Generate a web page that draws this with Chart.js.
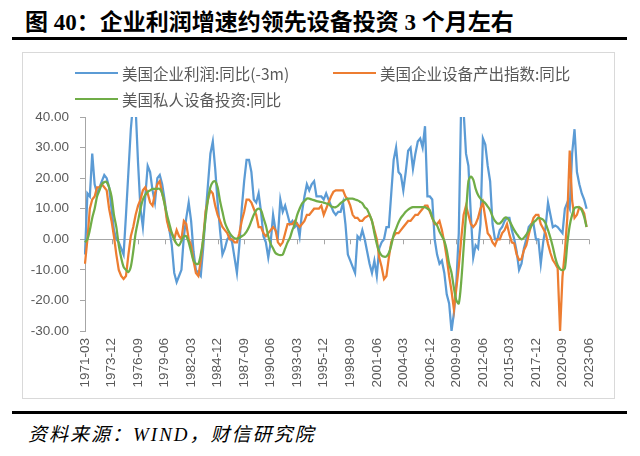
<!DOCTYPE html>
<html>
<head>
<meta charset="utf-8">
<script src="https://cdn.jsdelivr.net/npm/chart.js@4.4.0/dist/chart.umd.min.js"></script>
<style>
  html, body { margin: 0; padding: 0; background: #fff; }
  body { width: 640px; height: 456px; position: relative; overflow: hidden; font-family: "Noto Sans CJK SC", sans-serif; }
  #title { position: absolute; left: 25px; top: 3px; font-size: 23px; font-weight: bold; color: #000; white-space: nowrap; font-family: "Liberation Serif", "Noto Sans CJK SC", serif; }
  .rule { position: absolute; left: 12px; width: 615px; height: 3px; background: #000; }
  #box { position: absolute; left: 22px; top: 52px; width: 591px; height: 345px; border: 1px solid #d9d9d9; }
  #chartWrap { position: absolute; left: 22px; top: 52px; width: 593px; height: 347px; }
  .lg { position: absolute; height: 18px; display: flex; align-items: center; font-size: 15.5px; color: #595959; white-space: nowrap; }
  .lg i { display: inline-block; width: 43px; height: 2.5px; margin-right: 4px; }
  #source { position: absolute; left: 28px; top: 419px; font-size: 19px; letter-spacing: 2px; font-style: italic; color: #000; white-space: nowrap; font-family: "Liberation Serif", "Noto Sans CJK SC", serif; }
</style>
</head>
<body>
<div id="title">图 40：企业利润增速约领先设备投资 3 个月左右</div>
<div class="rule" style="top:37px"></div>
<div id="box"></div>
<div id="chartWrap"><canvas id="chart" width="593" height="347"></canvas></div>
<div class="lg" style="left:75px;top:64px"><i style="background:#5B9BD5"></i>美国企业利润:同比(-3m)</div>
<div class="lg" style="left:333px;top:64px"><i style="background:#ED7D31"></i>美国企业设备产出指数:同比</div>
<div class="lg" style="left:75px;top:90px"><i style="background:#70AD47"></i>美国私人设备投资:同比</div>
<div class="rule" style="top:411px"></div>
<div id="source">资料来源：WIND，财信研究院</div>

<script>
// quarterly categories 1971-03 .. 2023-06
const quarters = [];
for (let y = 1971; y <= 2023; y++) {
  for (const m of ["03", "06", "09", "12"]) {
    const q = y + "-" + m;
    if (q >= "1971-03" && q <= "2023-06") quarters.push(q);
  }
}

const tickLabels = ["1971-03", "1973-12", "1976-09", "1979-06", "1982-03", "1984-12", "1987-09", "1990-06",
  "1993-03", "1995-12", "1998-09", "2001-06", "2004-03", "2006-12", "2009-09", "2012-06", "2015-03",
  "2017-12", "2020-09", "2023-06"];

const profitNames = "美国企业利润:同比(-3m)";
const outputNames = "美国企业设备产出指数:同比";
const investNames = "美国私人设备投资:同比";

const profit = [
  -5, 15, 14, 28, 18, 15, 17, 19, 21, 20, 17, 10, 3, 0, -1, -3, -5, 8, 22, 36,
  45, 43, 25, 10, 4, 14, 24, 22, 16, 12, 20, 21, 18, 13, 7, 3, -2, -11, -14, -12,
  -10, 1, 7, 12, 6, -4, -10, -11, -12, -3, 8, 18, 28, 32, 23, 12, 3, -5, -3, 0,
  1, -1, -6, -11, -2, 10, 19, 26, 26, 22, 13, 12, 15, 9, 1, -1, -6, -1, 8, 3,
  1, 13, 9, 11, 8, 5, 6, 4, 5, 1, 9, 14, 18, 16, 18, 19, 14, 14, 14, 13,
  15, 13, 11, 9, 8, 9, 9, 12, 5, -5, -7, -9, -11, 1, 0, 3, 0, -4, -8, -11,
  -7, -12, -3, -1, 0, 4, 4, 15, 26, 30, 22, 21, 16, 22, 29, 30, 23, 28, 32, 33,
  30, 37, 14, 14, 13, 0, -5, -8, -7, -11, -18, -21, -30, -24, -14, 2, 45, 42, 28, 24,
  8, -6, -2, -3, 5, 33, 31, 24, 19, 5, 0, 0, 3, 4, 6, 7, 7, 3, 0, -4,
  -10, -8, -3, 0, 4, 5, 5, 0, 0, -8, -1, 4, 12, 8, 4, 4.5, 4, 3, 2, 10,
  12, 10, 28, 36, 22, 18, 15, 13, 10
];

const output = [
  -8, 0, 10, 13, 14, 17, 17, 18, 17, 16, 10, 6, 1, -5, -10, -12, -13, -12, -5, 1,
  4, 8, 11, 13, 16, 17, 15, 12, 11, 15, 18, 19, 15, 12, 6, 3, 2, 0, 3, 1,
  0, 6, 5, 0, -2, -7, -11, -12, -7, 0, 9, 13, 16, 15, 11, 8, 6, 4, 3, 2,
  0, 0, -1, -1, 2, 6, 9, 13, 13, 12, 10, 8, 4, 4, 2, 1, 2, 3, 4, 3,
  -1, -2, -1, 2, 5, 5, 5, 6, 5, 4, 5, 6, 8, 8, 9, 10, 10, 10, 11, 8,
  10, 12, 14, 15.5, 16, 16, 16, 16, 14, 13, 11, 8, 7, 7, 6, 6, 7, 7.5, 8, 6,
  3, 0, -6, -9, -13, -12, -6, -1, 1, 2, 2, 3, 4, 5, 6, 6, 7, 8, 8, 9,
  10, 11, 11, 9, 7, 5, 5, 6, 3, -1, -6, -12, -17, -23, -16, -9, 0, 8, 11, 8,
  5, 4, 5, 7, 10, 12, 7, 2, 1, -1, -2, 0, 0, 2, 3, 5, 1.5, -1, -1.4, -5,
  -6.8, -6.5, -3.6, -2, 1.5, 4.5, 7, 8, 8, 5, 3.5, 2, -1.5, -4.5, -6.8, -8, -9.5, -30, -12.3, -4,
  7, 29, 12.7, 7, 8, 10.5, 10, 8.5, 4
];

const invest = [
  -1, 0, 3, 7, 10, 14, 16, 18, 18.7, 18.7, 17, 14, 8, 4, -2, -6, -9, -10, -10.7, -9,
  -4, 2, 6, 10, 13, 14.5, 15.5, 16, 16.5, 16.5, 16.5, 16.5, 15, 11.5, 8, 5, 2, 0, -1.5, -2,
  -0.5, 1, 1, -1, -4, -7, -8, -8, -5, 0, 7, 13, 17, 18.7, 19, 17, 12.5, 9, 5.5, 3.5,
  2, 1, 0.3, 0.2, 0.5, 1, 1.5, 2.5, 4, 6, 8, 9.5, 10, 9.5, 7, 4.5, 1, -1.5, -3, -4.5,
  -5, -5.2, -5, -3, -1, 0.5, 3, 5, 8, 10, 11.7, 12.5, 13.3, 13.3, 13, 12.8, 12.5, 12.3, 12.2, 12,
  11.7, 11.5, 10.8, 10.5, 10.5, 11, 11.8, 12.4, 13, 13.3, 13.3, 13.3, 13, 12.8, 12.3, 11.8, 10.5, 9.8, 8, 6,
  2, -1.5, -4, -5.3, -5.7, -5.6, -4.5, -2, 1.5, 3.5, 5.5, 7, 8, 9, 9.7, 10.2, 10.5, 10.5, 10.5, 10.5,
  10.5, 10.5, 10, 9.5, 7, 5.5, 4.5, 2.5, 1, -0.5, -3.5, -8, -11, -16, -20, -21, -14, -3, 8, 19,
  20.5, 19.5, 16.5, 14.5, 13.3, 12.5, 11.8, 10.7, 9.5, 7.5, 6, 5.2, 5.2, 6, 7, 7, 6, 4.5, 3, 1.8,
  0.7, 0, 0.5, 1.5, 2.8, 4.2, 5.5, 6.2, 7, 6.8, 6.4, 5.2, 3, 0.5, -2.5, -6, -8.5, -9.7, -10.1, -9.5,
  -1.5, 4.5, 8, 10.2, 10.5, 10.4, 9.5, 7.3, 4
];

const axisGrey = "#a6a6a6";
const labelGrey = "#595959";

// small tick marks sitting on the zero line, like the excel category axis
const zeroTicks = {
  id: "zeroTicks",
  beforeDatasetsDraw(chart) {
    const x = chart.scales.x, y = chart.scales.y;
    const y0 = y.getPixelForValue(0);
    const c = chart.ctx;
    c.save();
    c.strokeStyle = axisGrey;
    c.lineWidth = 1;
    x.ticks.forEach(t => {
      const px = Math.round(x.getPixelForValue(t.value)) + 0.5;
      c.beginPath();
      c.moveTo(px, y0);
      c.lineTo(px, y0 + 5);
      c.stroke();
    });
    c.restore();
  }
};

new Chart(document.getElementById("chart"), {
  type: "line",
  data: {
    labels: quarters,
    datasets: [
      {label: profitNames, data: profit, borderColor: "#5B9BD5", borderWidth: 2.25, pointRadius: 0, tension: 0, order: 3},
      {label: outputNames, data: output, borderColor: "#ED7D31", borderWidth: 2.25, pointRadius: 0, tension: 0, order: 2},
      {label: investNames, data: invest, borderColor: "#70AD47", borderWidth: 2.25, pointRadius: 0, tension: 0.3, order: 1}
    ]
  },
  options: {
    responsive: false,
    animation: false,
    devicePixelRatio: 1,
    layout: {padding: {top: 65, right: 26, left: 0, bottom: 0}},
    plugins: {legend: {display: false}, tooltip: {enabled: false}},
    scales: {
      x: {
        offset: false,
        afterBuildTicks: s => { s.ticks = s.ticks.filter(t => tickLabels.includes(quarters[t.value])); },
        afterFit: s => { s.height = 68; },
        grid: {display: false, drawTicks: false},
        border: {display: false},
        ticks: {autoSkip: false, minRotation: 90, maxRotation: 90, padding: 7, color: labelGrey,
          font: {family: "Liberation Sans", size: 13.5}}
      },
      y: {
        min: -30, max: 40,
        afterFit: s => { s.width = 63; },
        ticks: {stepSize: 10, padding: 11, color: labelGrey, font: {family: "Liberation Sans", size: 13.5},
          callback: v => Number(v).toFixed(2)},
        grid: {color: c => (c.tick && c.tick.value === 0 ? axisGrey : "rgba(0,0,0,0)"), tickColor: axisGrey, tickLength: 5, lineWidth: 1},
        border: {display: true, color: axisGrey, width: 1}
      }
    }
  },
  plugins: [zeroTicks]
});
</script>
</body>
</html>
